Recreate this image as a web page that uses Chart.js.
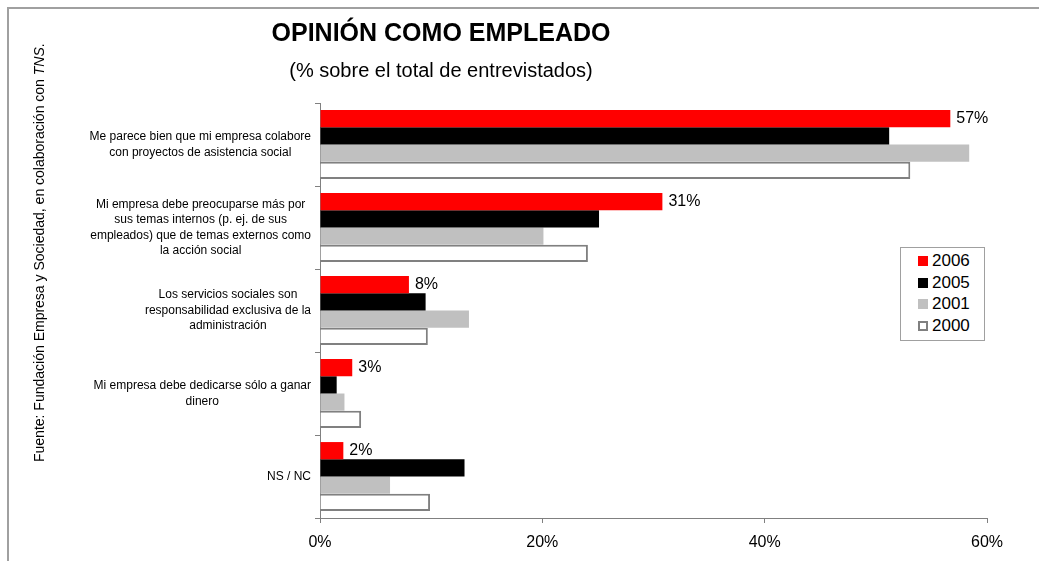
<!DOCTYPE html>
<html>
<head>
<meta charset="utf-8">
<script src="https://cdn.jsdelivr.net/npm/chart.js@4"></script>
<style>
    body { margin: 0; background: #fff; font-family: 'Liberation Sans', Arial, sans-serif; }
    #wrap { position: relative; width: 1039px; height: 561px; overflow: hidden; }
    #frameTop { position: absolute; left: 7px; top: 7px; width: 1032px; height: 2px; background: #a0a0a0; }
    #frameLeft { position: absolute; left: 7px; top: 7px; width: 2px; height: 554px; background: #a0a0a0; }
    #title { position: absolute; left: 0; width: 882px; top: 17px; text-align: center; font-weight: bold; font-size: 25px; line-height: 30px; color: #000; }
    #subtitle { position: absolute; left: 0; width: 882px; top: 58px; text-align: center; font-size: 20px; line-height: 24px; color: #000; }
    #source { position: absolute; left: 30px; top: 0; height: 505px; width: 18px; writing-mode: vertical-rl; transform: rotate(180deg); text-align: center; white-space: nowrap; font-size: 14px; line-height: 18px; color: #000; }
    #legend { position: absolute; left: 900px; top: 247px; width: 83px; height: 92px; border: 1px solid #a0a0a0; background: #fff; }
    .item { position: absolute; left: 17px; font-size: 17px; line-height: 18px; color: #000; }
    .item span { display: inline-block; width: 10px; height: 10px; margin-right: 4px; vertical-align: 0px; box-sizing: border-box; }
    canvas { position: absolute; left: 0; top: 0; }
</style>
</head>
<body>
<div id="wrap">
    <canvas id="myChart" width="1039" height="561"></canvas>
    <div id="frameTop"></div>
    <div id="frameLeft"></div>
    <div id="title">OPINIÓN COMO EMPLEADO</div>
    <div id="subtitle">(% sobre el total de entrevistados)</div>
    <div id="source">Fuente: Fundación Empresa y Sociedad, en colaboración con <i>TNS</i>.</div>
    <div id="legend"></div>
</div>
<script>
'use strict';

let categories = [
    ['Me parece bien que mi empresa colabore', 'con proyectos de asistencia social'],
    ['Mi empresa debe preocuparse más por', 'sus temas internos (p. ej. de sus', 'empleados) que de temas externos como', 'la acción social'],
    ['Los servicios sociales son', 'responsabilidad exclusiva de la', 'administración'],
    ['Mi empresa debe dedicarse sólo a ganar', 'dinero'],
    ['NS / NC']
];
let years = ['2006', '2005', '2001', '2000'];
let values2006 = [56.7, 30.8, 8.0, 2.9, 2.1];
let values2005 = [51.2, 25.1, 9.5, 1.5, 13.0];
let values2001 = [58.4, 20.1, 13.4, 2.2, 6.3];
let values2000 = [53.1, 24.1, 9.7, 3.7, 9.9];
let xTicks = [0, 20, 40, 60];

let fillColors = ['#ff0000', '#000000', '#c0c0c0', '#ffffff'];
let borderColors = ['#ff0000', '#000000', '#c0c0c0', '#808080'];
let allValues = [values2006, values2005, values2001, values2000];

// legend
let legendEl = document.getElementById('legend');
let rowTops = [4, 26, 47, 69];
for (let i = 0; i < years.length; i++) {
    let item = document.createElement('div');
    item.className = 'item';
    item.style.top = rowTops[i] + 'px';
    let sw = document.createElement('span');
    sw.style.background = fillColors[i];
    if (i === 3) {
        sw.style.border = '2px solid #808080';
    }
    item.appendChild(sw);
    item.appendChild(document.createTextNode(years[i]));
    legendEl.appendChild(item);
}

// category labels, block right aligned, lines centered inside the block
let catLabelPlugin = {
    id: 'catLabels',
    afterDraw(chart) {
        let ctx = chart.ctx;
        let yScale = chart.scales.y;
        ctx.save();
        ctx.font = '12px "Liberation Sans", Arial, sans-serif';
        ctx.fillStyle = '#000';
        ctx.textAlign = 'center';
        ctx.textBaseline = 'middle';
        let lineH = 15.5;
        let right = 311;
        for (let i = 0; i < categories.length; i++) {
            let lines = categories[i];
            let w = 0;
            lines.forEach(l => { w = Math.max(w, ctx.measureText(l).width); });
            let cx = right - w / 2;
            let cy = yScale.getPixelForValue(i);
            let startY = cy - (lines.length - 1) * lineH / 2;
            for (let k = 0; k < lines.length; k++) {
                ctx.fillText(lines[k], cx, startY + k * lineH);
            }
        }
        ctx.restore();
    }
};

// value labels for 2006 only
let valueLabelPlugin = {
    id: 'valueLabels',
    afterDatasetsDraw(chart) {
        let ctx = chart.ctx;
        let meta = chart.getDatasetMeta(0);
        ctx.save();
        ctx.font = '16px "Liberation Sans", Arial, sans-serif';
        ctx.fillStyle = '#000';
        ctx.textAlign = 'left';
        ctx.textBaseline = 'middle';
        meta.data.forEach((bar, i) => {
            ctx.fillText(Math.round(values2006[i]) + '%', bar.x + 6, bar.y);
        });
        ctx.restore();
    }
};

let datasets = [];
for (let i = 0; i < years.length; i++) {
    datasets.push({
        label: years[i],
        data: allValues[i],
        backgroundColor: fillColors[i],
        borderColor: borderColors[i],
        borderWidth: i === 3 ? 2 : 0,
        categoryPercentage: 0.83,
        barPercentage: 1.0
    });
}

let ctx = document.getElementById('myChart').getContext('2d');
let myChart = new Chart(ctx, {
    type: 'bar',
    data: {
        labels: categories.map(c => c.join(' ')),
        datasets: datasets
    },
    options: {
        indexAxis: 'y',
        responsive: false,
        animation: false,
        layout: {
            padding: { left: 0, top: 103, right: 52, bottom: 0 }
        },
        plugins: {
            legend: { display: false },
            tooltip: { enabled: false }
        },
        scales: {
            x: {
                min: 0,
                max: 60,
                afterBuildTicks: scale => { scale.ticks = xTicks.map(v => ({ value: v })); },
                afterFit: scale => { scale.height = 43; },
                ticks: {
                    padding: 10,
                    color: '#000',
                    font: { family: '"Liberation Sans", Arial, sans-serif', size: 16 },
                    callback: v => v + '%'
                },
                grid: { drawOnChartArea: false, tickLength: 5, color: '#808080' },
                border: { color: '#808080', width: 1 }
            },
            y: {
                afterFit: scale => { scale.width = 320; },
                ticks: { display: false },
                grid: { offset: true, drawOnChartArea: false, tickLength: 5, color: '#808080' },
                border: { color: '#808080', width: 1 }
            }
        }
    },
    plugins: [catLabelPlugin, valueLabelPlugin]
});
</script>
</body>
</html>
